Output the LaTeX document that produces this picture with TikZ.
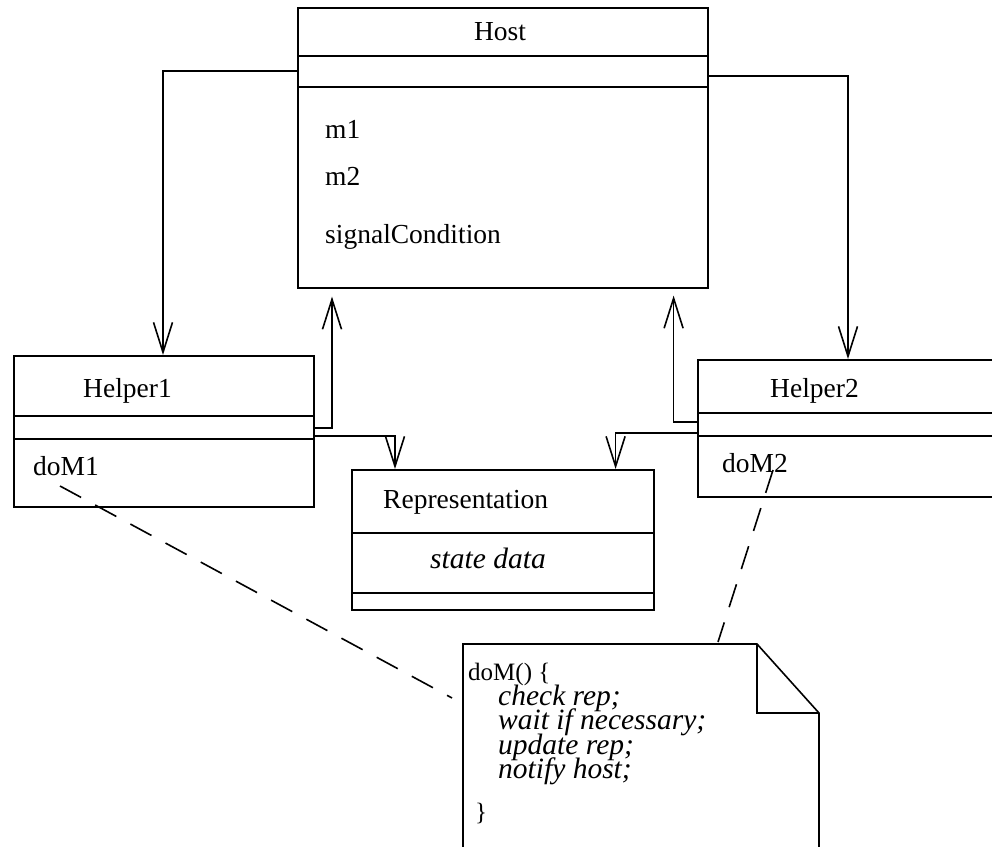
\documentclass[tikz,border=0pt]{standalone}
\usepackage{fontspec}
\setmainfont{Liberation Serif}
\usetikzlibrary{arrows.meta,calc}
\newcommand\mytightlines{\lineskiplimit=-100pt\relax\lineskip=0pt\relax}
\newcommand\mynoteit{\fontsize{29.5pt}{24.5pt}\selectfont\itshape}
\begin{document}
\begin{tikzpicture}[x=1pt,y=-1pt,
  ln/.style={line width=1.6pt,line join=miter},
  classbox/.style={draw,ln,anchor=north west,inner sep=0pt},
  lbl/.style={anchor=base west,inner sep=0pt,font=\fontsize{27.5pt}{30pt}\selectfont},
  itl/.style={anchor=base west,inner sep=0pt,font=\fontsize{29.5pt}{30pt}\selectfont\itshape},
  assoc/.style={ln,-{Straight Barb[length=30pt,width=19pt,line width=1.6pt]}},
  notelink/.style={ln,dash pattern=on 24pt off 16pt}]
\useasboundingbox (0,0) rectangle (992,846);
\clip (0,0) rectangle (992,846);
% Host
\node[classbox,minimum width=410pt,minimum height=280pt] (Host) at (297,7) {};
\draw[ln] ($(Host.north west)+(0,49)$) -- ($(Host.north east)+(0,49)$);
\draw[ln] ($(Host.north west)+(0,80)$) -- ($(Host.north east)+(0,80)$);
\node[lbl,anchor=base] (hostname) at (500,40) {Host};
\node[lbl] (m1) at (325,138) {m1};
\node[lbl] (m2) at (325,185) {m2};
\node[lbl] (sig) at (325,243) {signalCondition};
% Helper1
\node[classbox,minimum width=300pt,minimum height=151pt] (Helper1) at (13,355) {};
\draw[ln] ($(Helper1.north west)+(0,61)$) -- ($(Helper1.north east)+(0,61)$);
\draw[ln] ($(Helper1.north west)+(0,84)$) -- ($(Helper1.north east)+(0,84)$);
\node[lbl] (h1name) at (83,397) {Helper1};
\node[lbl] (doM1) at (33,475) {doM1};
% Helper2
\node[classbox,minimum width=330pt,minimum height=137pt] (Helper2) at (697,359) {};
\draw[ln] ($(Helper2.north west)+(0,54)$) -- ($(Helper2.north east)+(0,54)$);
\draw[ln] ($(Helper2.north west)+(0,77)$) -- ($(Helper2.north east)+(0,77)$);
\node[lbl] (h2name) at (770,397) {Helper2};
\node[lbl] (doM2) at (722,472) {doM2};
% Representation
\node[classbox,minimum width=302pt,minimum height=140pt] (Rep) at (351,469) {};
\draw[ln] ($(Rep.north west)+(0,64)$) -- ($(Rep.north east)+(0,64)$);
\draw[ln] ($(Rep.north west)+(0,124)$) -- ($(Rep.north east)+(0,124)$);
\node[lbl] (repname) at (383,508) {Representation};
\node[itl] (state) at (430,568) {state data};
% Note
\node[anchor=north west,inner sep=0pt,minimum width=356pt,minimum height=220pt] (note) at (463,644) {};
\draw[ln] (note.south west) -- (note.north west) -- ($(note.north west)+(294,0)$)
  -- ($(note.north west)+(356,69)$) -- ($(note.south west)+(356,0)$);
\draw[ln] ($(note.north west)+(294,0)$) -- ($(note.north west)+(294,69)$) -- ($(note.north west)+(356,69)$);
\node[anchor=north west,inner sep=0pt,align=left,
  font=\fontsize{25pt}{24.5pt}\selectfont\mytightlines] (notetext) at (468,663)
  {doM() \{\\
   \hspace*{30pt}{\mynoteit check rep;}\\
   \hspace*{30pt}{\mynoteit wait if necessary;}\\
   \hspace*{30pt}{\mynoteit update rep;}\\
   \hspace*{30pt}{\mynoteit notify host;}\\[17.5pt]
   \hspace*{7pt}\}};
% connectors
\draw[assoc] ($(Host.north west)+(0,64)$) -| ($(Helper1.north west)+(150,0)$);
\draw[assoc] ($(Host.north east)+(0,69)$) -| ($(Helper2.north west)+(151,0)$);
\draw[assoc] ($(Helper1.north east)+(0,73)$) -| ($(Host.south west)+(35,8)$);
\draw[assoc] ($(Helper1.north east)+(0,81)$) -| ($(Rep.north west)+(44,0)$);
\draw[assoc] ($(Helper2.north west)+(0,63)$) -| ($(Host.south east)+(-35,7)$);
\draw[assoc] ($(Helper2.north west)+(0,74)$) -| ($(Rep.north east)+(-39,0)$);
% note links
\draw[notelink] ($(doM1.base west)+(27,11)$) -- ($(note.north west)+(-11,54)$);
\draw[notelink] ($(doM2.base west)+(51,-2)$) -- ($(note.north west)+(255,-2)$);
\end{tikzpicture}
\end{document}
